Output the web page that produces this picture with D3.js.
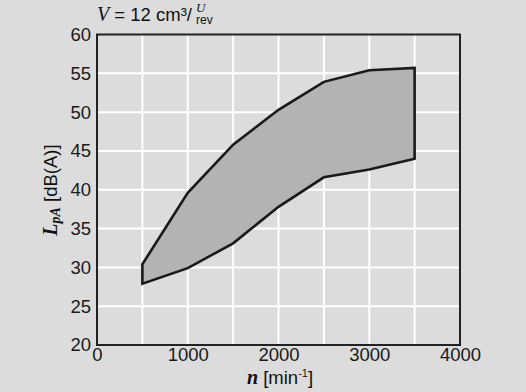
<!DOCTYPE html>
<html><head><meta charset="utf-8">
<script src="https://cdn.jsdelivr.net/npm/d3@7"></script>
<style>html,body{margin:0;padding:0;background:#dcdcdc;}svg{display:block;}</style>
</head><body>
<script>
const speeds = [500, 1000, 1500, 2000, 2500, 3000, 3500];
const upper = [30.4, 39.6, 45.8, 50.3, 53.9, 55.4, 55.7];
const lower = [27.9, 29.9, 33.1, 37.8, 41.6, 42.6, 44.0];
const xTicks = [0, 1000, 2000, 3000, 4000];
const xGrid = [500, 1000, 1500, 2000, 2500, 3000, 3500];
const yTicks = [20, 25, 30, 35, 40, 45, 50, 55, 60];

const W = 526, H = 392;
const svg = d3.select("body").append("svg").attr("width", W).attr("height", H);
svg.append("rect").attr("width", W).attr("height", H).attr("fill", "#dcdcdc");

const x = d3.scaleLinear().domain([0, 4000]).range([97, 460]);
const y = d3.scaleLinear().domain([20, 60]).range([345, 34.5]);
const font = "Liberation Sans, Arial, sans-serif";
const serif = "Liberation Serif, Times New Roman, serif";
const FS = 18.5;

// grid
const g = svg.append("g");
g.selectAll("line.vx").data(xGrid).enter().append("line")
  .attr("x1", d => x(d)).attr("x2", d => x(d)).attr("y1", y(60)).attr("y2", y(20))
  .attr("stroke", "#ffffff").attr("stroke-width", 2);
g.selectAll("line.hy").data(yTicks.slice(1, -1)).enter().append("line")
  .attr("x1", x(0)).attr("x2", x(4000)).attr("y1", d => y(d)).attr("y2", d => y(d))
  .attr("stroke", "#ffffff").attr("stroke-width", 2);

// area polygon
const pts = speeds.map((s, i) => [x(s), y(upper[i])])
  .concat(speeds.map((s, i) => [x(s), y(lower[i])]).reverse());
svg.append("path")
  .attr("d", d3.line()(pts) + "Z")
  .attr("fill", "#b3b3b4").attr("stroke", "#1a1a1a").attr("stroke-width", 2.6)
  .attr("stroke-linejoin", "miter");

// frame
svg.append("rect").attr("x", x(0)).attr("y", y(60)).attr("width", x(4000) - x(0)).attr("height", y(20) - y(60))
  .attr("fill", "none").attr("stroke", "#222").attr("stroke-width", 2);

// axes tick labels
const yAxis = d3.axisLeft(y).tickValues(yTicks).tickSize(0).tickPadding(6).tickFormat(d3.format("d"));
const ya = svg.append("g").attr("transform", `translate(${x(0)},0)`).call(yAxis);
ya.select(".domain").remove();
ya.selectAll("text").attr("font-family", font).attr("font-size", FS).attr("fill", "#1a1a1a");

const xAxis = d3.axisBottom(x).tickValues(xTicks).tickSize(0).tickPadding(3).tickFormat(d3.format("d"));
const xa = svg.append("g").attr("transform", `translate(0,${y(20)})`).call(xAxis);
xa.select(".domain").remove();
xa.selectAll("text").attr("font-family", font).attr("font-size", FS).attr("fill", "#1a1a1a");

// title
const t = svg.append("text").attr("x", 97).attr("y", 21).attr("font-family", font).attr("font-size", FS).attr("fill", "#111");
t.append("tspan").attr("font-family", serif).attr("font-style", "italic").attr("font-size", 20).text("V");
t.append("tspan").text(" = 12 cm³/");
const tEnd = 97 + t.node().getComputedTextLength();
svg.append("text").attr("x", tEnd + 4).attr("y", 12).attr("font-family", serif).attr("font-style", "italic").attr("font-size", 13).attr("fill", "#111").text("U");
svg.append("text").attr("x", tEnd + 4).attr("y", 24).attr("font-family", font).attr("font-size", 12).attr("fill", "#111").text("rev");

// x label
const xl = svg.append("text").attr("x", 280).attr("y", 384).attr("text-anchor", "middle").attr("font-family", font).attr("font-size", FS).attr("fill", "#111");
xl.append("tspan").attr("font-family", serif).attr("font-style", "italic").attr("font-weight", "bold").attr("font-size", 20).text("n");
xl.append("tspan").text(" [min");
xl.append("tspan").attr("font-size", 11).attr("dy", -7).text("-1");
xl.append("tspan").attr("dy", 7).text("]");

// y label
const yl = svg.append("text").attr("transform", `translate(57,${190}) rotate(-90)`).attr("text-anchor", "middle")
  .attr("font-family", font).attr("font-size", FS).attr("fill", "#111");
yl.append("tspan").attr("font-family", serif).attr("font-style", "italic").attr("font-weight", "bold").attr("font-size", 20).text("L");
yl.append("tspan").attr("font-family", serif).attr("font-style", "italic").attr("font-weight", "bold").attr("font-size", 14).attr("dy", 3).text("pA");
yl.append("tspan").attr("dy", -3).text(" [dB(A)]");
</script>
</body></html>
